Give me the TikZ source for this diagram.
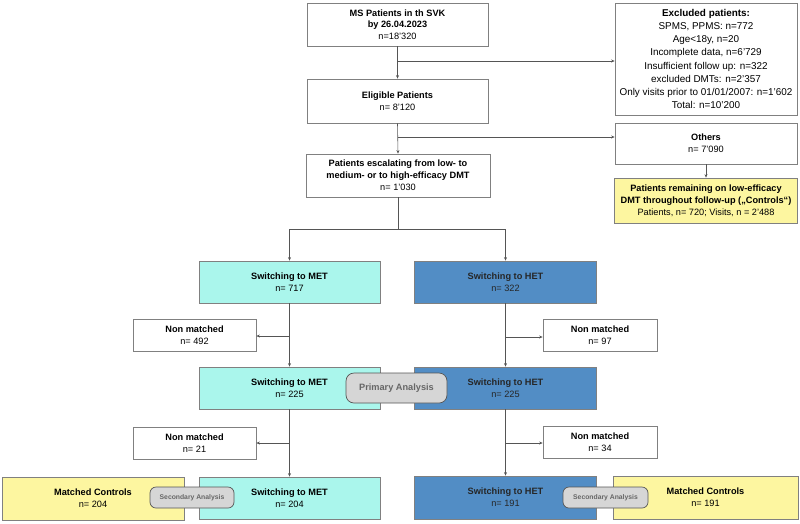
\documentclass[tikz,border=0pt]{standalone}
\usepackage{fontspec}
\setmainfont{Liberation Sans}
\usetikzlibrary{arrows.meta}
\definecolor{metc}{RGB}{170,246,236}
\definecolor{hetc}{RGB}{82,141,197}
\definecolor{yelc}{RGB}{253,246,160}
\definecolor{grayc}{RGB}{214,214,214}
\definecolor{linec}{RGB}{85,85,85}
\definecolor{bordc}{RGB}{128,128,128}
\begin{document}
\begin{tikzpicture}[x=1pt,y=-1pt,
 box/.style={draw=bordc, line width=0.7pt, fill=white, align=center, inner sep=1pt, font=\fontsize{9.2}{12}\selectfont, text=black},
 met/.style={box, fill=metc},
 het/.style={box, fill=hetc, text=black!85},
 yel/.style={box, fill=yelc},
 pill/.style={draw=linec, fill=grayc, rounded corners=8pt, line width=0.7pt, text=black!60, align=center, inner sep=1pt, font=\bfseries\fontsize{9.2}{11}\selectfont},
 spill/.style={pill, rounded corners=6pt, font=\bfseries\fontsize{6.8}{8}\selectfont},
 arr/.style={draw=linec, line width=0.6pt, -{Stealth[length=3.5pt,width=3pt]}},
 ln/.style={draw=linec, line width=0.6pt}]
\useasboundingbox (0,0) rectangle (800,523);

\node[box, minimum width=181pt, minimum height=43pt, font=\fontsize{9.2}{11.6}\selectfont] (ms) at (397.5,24.5) {\textbf{MS Patients in th SVK}\\\textbf{by 26.04.2023}\\n=18'320};
\node[box, minimum width=182pt, minimum height=112pt, font=\fontsize{9.9}{13.2}\selectfont] (excl) at (706,59) {\textbf{Excluded patients:}\\SPMS, PPMS: n=772\\Age<18y, n=20\\Incomplete data, n=6'729\\Insufficient follow up: n=322\\excluded DMTs: n=2'357\\Only visits prior to 01/01/2007: n=1'602\\Total: n=10'200};
\node[box, minimum width=181pt, minimum height=44pt] (elig) at (397.5,101) {\textbf{Eligible Patients}\\n= 8'120};
\node[box, minimum width=182pt, minimum height=41pt] (others) at (706,143.5) {\textbf{Others}\\n= 7'090};
\node[yel, minimum width=183pt, minimum height=45pt] (ctrl) at (706,200.5) {\textbf{Patients remaining on low-efficacy}\\\textbf{DMT throughout follow-up („Controls“)}\\Patients, n= 720; Visits, n = 2'488};
\node[box, minimum width=184pt, minimum height=43pt] (esc) at (398,175.5) {\textbf{Patients escalating from low- to}\\\textbf{medium- or to high-efficacy DMT}\\n= 1'030};

\node[met, minimum width=181pt, minimum height=42pt] (met1) at (289.5,282) {\textbf{Switching to MET}\\n= 717};
\node[het, minimum width=182pt, minimum height=42pt] (het1) at (505.5,282) {\textbf{Switching to HET}\\n= 322};
\node[box, minimum width=123pt, minimum height=32pt] (nm1) at (194.5,335) {\textbf{Non matched}\\n= 492};
\node[box, minimum width=114pt, minimum height=32pt] (nm2) at (600,335) {\textbf{Non matched}\\n= 97};
\node[met, minimum width=181pt, minimum height=42pt] (met2) at (289.5,388) {\textbf{Switching to MET}\\n= 225};
\node[het, minimum width=182pt, minimum height=42pt] (het2) at (505.5,388) {\textbf{Switching to HET}\\n= 225};
\node[box, minimum width=123pt, minimum height=32pt] (nm3) at (194.5,443) {\textbf{Non matched}\\n= 21};
\node[box, minimum width=114pt, minimum height=32pt] (nm4) at (600,442) {\textbf{Non matched}\\n= 34};
\node[met, minimum width=181pt, minimum height=42pt] (met3) at (289.5,498) {\textbf{Switching to MET}\\n= 204};
\node[yel, minimum width=182pt, minimum height=43pt] (mc1) at (93,498.5) {\textbf{Matched Controls}\\n= 204};
\node[het, minimum width=182pt, minimum height=43pt] (het3) at (505.5,497.5) {\textbf{Switching to HET}\\n= 191};
\node[yel, minimum width=185pt, minimum height=43pt] (mc2) at (705.5,497.5) {\textbf{Matched Controls}\\n= 191};

\node[pill, minimum width=101pt, minimum height=30pt] (prim) at (396.5,388) {Primary Analysis};
\node[spill, minimum width=84pt, minimum height=21pt] (sec1) at (192,497.5) {Secondary Analysis};
\node[spill, minimum width=85pt, minimum height=21pt] (sec2) at (605.5,497.5) {Secondary Analysis};

\coordinate (b1) at (397.5,61);
\coordinate (b2) at (397.5,137);
\coordinate (sp) at (398,229);
\coordinate (b3) at (289.5,336);
\coordinate (b4) at (505.5,337);
\coordinate (b5) at (289.5,443);
\coordinate (b6) at (505.5,443);

\draw[arr] (ms.south) -- (elig.north);
\draw[arr] (b1) -- (excl.west |- b1);
\draw[arr] (elig.south) -- (esc.north);
\draw[arr] (b2) -- (others.west |- b2);
\draw[arr] (others.south) -- (ctrl.north);
\draw[ln] (esc.south) -- (sp);
\draw[arr] (sp) -| (met1.north);
\draw[arr] (sp) -| (het1.north);
\draw[arr] (met1.south) -- (met2.north);
\draw[arr] (b3) -- (nm1.east |- b3);
\draw[arr] (het1.south) -- (het2.north);
\draw[arr] (b4) -- (nm2.west |- b4);
\draw[arr] (met2.south) -- (met3.north);
\draw[arr] (b5) -- (nm3.east |- b5);
\draw[arr] (het2.south) -- (het3.north);
\draw[arr] (b6) -- (nm4.west |- b6);
\end{tikzpicture}
\end{document}
